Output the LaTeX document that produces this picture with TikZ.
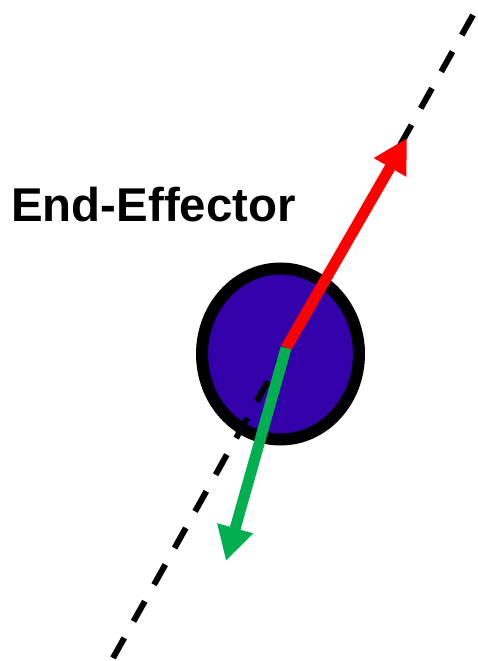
\documentclass[tikz,border=0pt]{standalone}
\usepackage{fontspec}
\setmainfont{Liberation Sans}
\usetikzlibrary{arrows.meta}
\definecolor{effblue}{HTML}{3300AA}
\definecolor{effgreen}{HTML}{00B050}

\begin{document}
\begin{tikzpicture}[x=0.02cm,y=-0.02cm,every node/.style={font=\fontsize{27}{33}\selectfont\bfseries}]
\clip (0,0) rectangle (477,661);
\coordinate (ee) at (280.5,354);
\coordinate (base) at (286,348);
\coordinate (axtop) at (473,15);
\coordinate (axbot) at (113,658);
\coordinate (up) at (407,138);
\coordinate (down) at (226,561);
\filldraw[fill=effblue,line width=0.24cm] (ee) ellipse [x radius=78.5,y radius=85.5];
\draw[line width=0.12cm,dash pattern=on 0.46cm off 0.38cm] (axtop) -- (axbot);
\draw[-{Triangle[length=0.68cm,width=0.7cm]},red,line width=0.22cm] (base) -- (up);
\draw[-{Triangle[length=0.68cm,width=0.7cm]},effgreen,line width=0.22cm] (base) -- (down);
\node[anchor=base west,inner sep=0pt] (label) at (11,222) {End-Effector};
\end{tikzpicture}
\end{document}
